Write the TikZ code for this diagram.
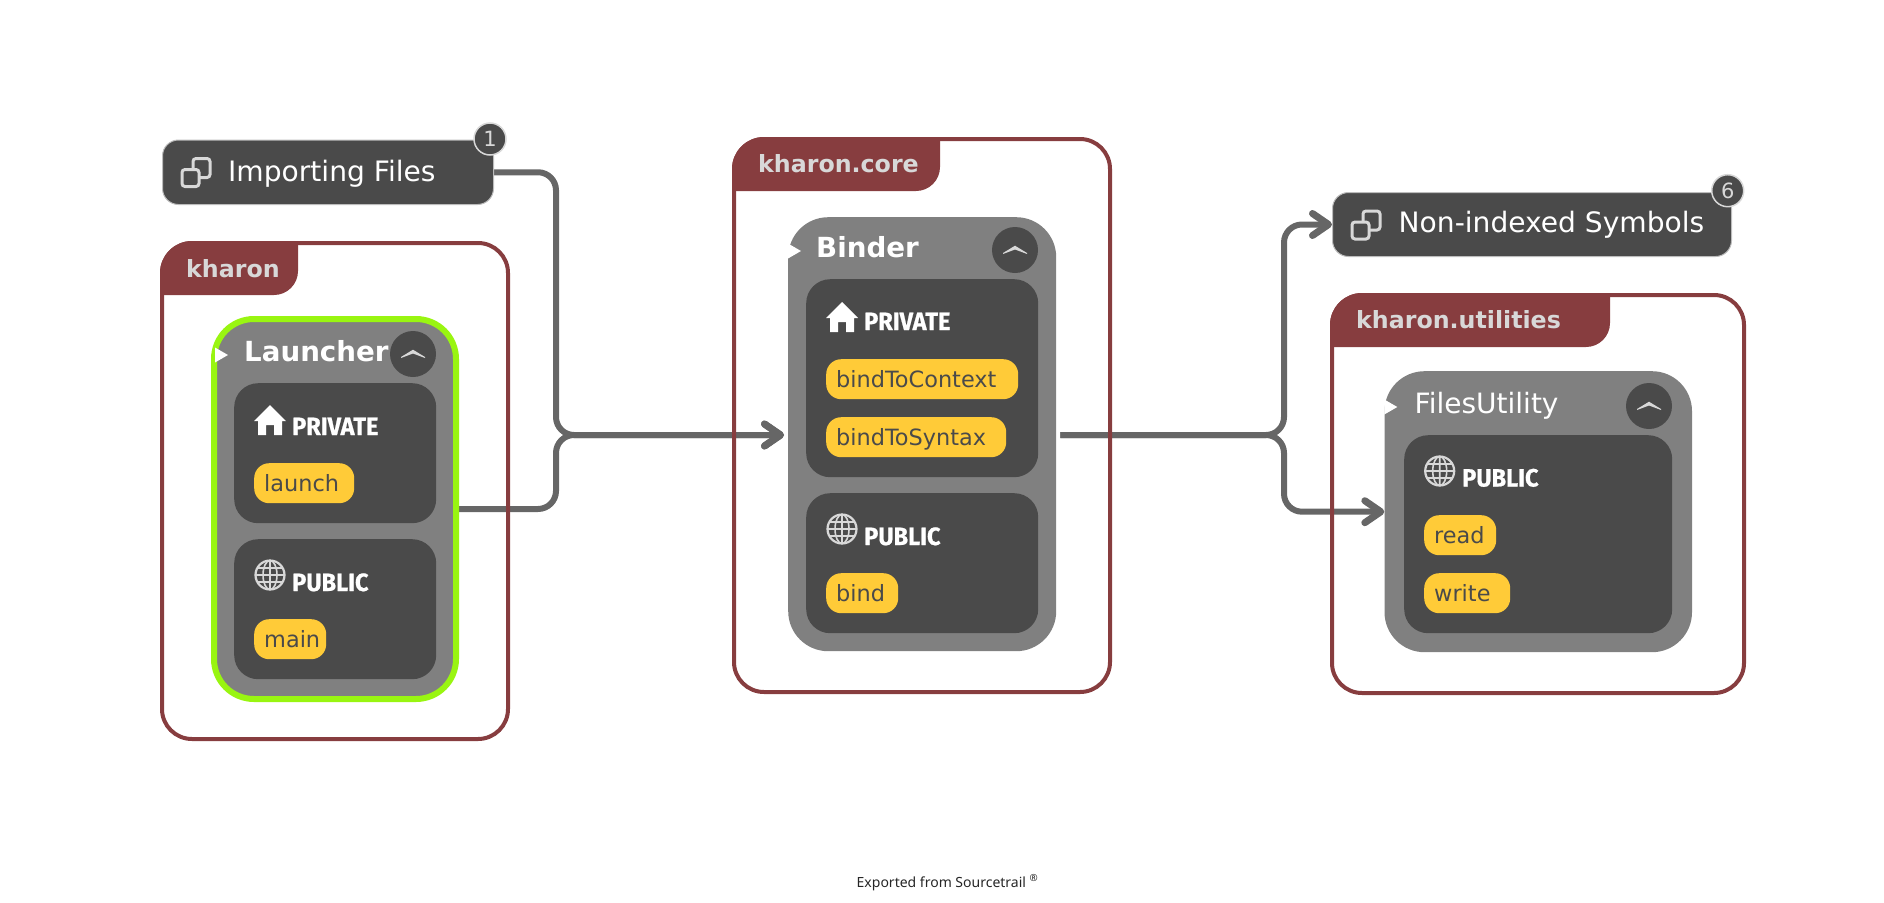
\documentclass[tikz,border=0pt]{standalone}
\usepackage{fontspec}
\usepackage{xcolor}
\usepackage{tikz}
\usetikzlibrary{positioning,arrows.meta,backgrounds}
\setmainfont{DejaVu Sans}
\newfontfamily\headfont[BoldFeatures={FakeBold=0.8,FakeStretch=0.94}]{Fira Sans}
\newfontfamily\footfont{Noto Sans}
\newcommand\pxfont[1]{\fontsize{#1}{#1}\selectfont}
\definecolor{groupred}{HTML}{873D3F}
\definecolor{darkbox}{HTML}{4A4A4A}
\definecolor{classgray}{HTML}{808080}
\definecolor{edgegray}{HTML}{666666}
\definecolor{pillyellow}{HTML}{FFCB38}
\definecolor{focusgreen}{HTML}{99F511}
\definecolor{softwhite}{HTML}{D8D8D8}
\tikzset{
  groupframe/.style={draw=groupred, line width=4pt, rounded corners=30pt, anchor=north west, inner sep=0pt},
  grouplabel/.style={anchor=base west, text=softwhite, font=\pxfont{23.7}\bfseries, inner sep=0pt},
  classbox/.style={fill=classgray, rounded corners=40pt, anchor=north west, inner sep=0pt},
  classname/.style={anchor=base west, text=white, font=\pxfont{28}, inner sep=0pt},
  sectionbox/.style={fill=darkbox, rounded corners=24pt, anchor=north west, inner sep=0pt},
  sectionname/.style={anchor=base west, text=white, font=\headfont\pxfont{25}\bfseries, inner sep=0pt},
  pill/.style={fill=pillyellow, rounded corners=15pt, anchor=north west, text=darkbox, font=\pxfont{22.4},
    inner xsep=10pt, inner ysep=12pt, text height=16pt, text depth=0pt, text width=#1, align=left},
  bundlebox/.style={fill=darkbox, draw=softwhite!80!darkbox, line width=1pt, rounded corners=16pt, anchor=north west, inner sep=0pt},
  bundlename/.style={anchor=base west, text=white, font=\pxfont{28.1}, inner sep=0pt},
  badge/.style={circle, fill=darkbox, draw=softwhite, line width=1.5pt, minimum size=32pt, inner sep=0pt, text=softwhite, font=\pxfont{21}},
  edgeline/.style={draw=edgegray, line width=6pt, rounded corners=18pt, -{Straight Barb[length=16pt,width=22pt,line width=7pt,round]}},
  foldmark/.pic={\fill[white] (0,-7.5) -- (13,0) -- (0,7.5) -- cycle;},
  collapse/.pic={
    \fill[darkbox] (0,0) circle (23);
    \fill[softwhite] (-12,3) -- (0,-4.3) -- (12,3) -- (12,4) -- (0,-0.5) -- (-12,4) -- cycle;
  },
  homeicon/.pic={
    \fill[white] (0,-15) -- (16,1) -- (12,1) -- (12,15) -- (4,15) -- (4,5) -- (-4,5) -- (-4,15) -- (-12,15) -- (-12,1) -- (-16,1) -- cycle;
  },
  globeicon/.pic={
    \draw[softwhite, line width=2.2pt] (0,0) circle (14.5);
    \draw[softwhite, line width=1.6pt] (0,0) ellipse (7 and 14.5) (0,-14.5) -- (0,14.5) (-14.5,0) -- (14.5,0) (-12.5,-7) -- (12.5,-7) (-12.5,7) -- (12.5,7);
  },
  filesicon/.pic={
    \draw[softwhite, line width=3pt, rounded corners=3pt] (-3,-14) rectangle (14,5);
    \draw[softwhite, fill=darkbox, line width=3pt, rounded corners=3pt] (-14,-3) rectangle (3,14);
  },
}
\newcommand\grouptab[2]{%
  \fill[groupred] ([yshift=-54pt]#1.north west) [rounded corners=32pt] -- (#1.north west) [sharp corners]
    -- ([xshift=#2]#1.north west) [rounded corners=24pt] -- ([shift={(#2,54)}]#1.north west) [sharp corners] -- cycle;}

\begin{document}
\begin{tikzpicture}[x=1pt, y=-1pt]
  \useasboundingbox (0,0) rectangle (1884,902);

  % left column
  \node[bundlebox, minimum width=331pt, minimum height=64.5pt] (importing) at (162,139.5) {};
  \pic at (196,172.5) {filesicon};
  \node[bundlename] (importinglabel) at (228,181) {Importing Files};
  \node[badge] (importingcount) at (490,139) {1};

  \node[groupframe, minimum width=346pt, minimum height=496pt] (kharon) at (160,241) {};
  \grouptab{kharon}{138pt}
  \node[grouplabel] (kharonlabel) at (186,277) {kharon};

  \node[classbox, draw=focusgreen, line width=6pt, minimum width=242pt, minimum height=380pt] (launcher) at (211,316) {};
  \pic at (215,355) {foldmark};
  \node[classname, font=\pxfont{27.7}\bfseries] (launcherlabel) at (244,361) {Launcher};
  \pic at (413,354) {collapse};
  \node[sectionbox, minimum width=202pt, minimum height=140pt] (launcherpriv) at (234,383) {};
  \pic at (270,420) {homeicon};
  \node[sectionname] (launcherprivlabel) at (292,435) {PRIVATE};
  \node[pill=80pt] (launch) at (254,463) {launch};
  \node[sectionbox, minimum width=202pt, minimum height=140pt] (launcherpub) at (234,539) {};
  \pic at (270,575) {globeicon};
  \node[sectionname] (launcherpublabel) at (292,591) {PUBLIC};
  \node[pill=52pt] (main) at (254,619) {main};

  % middle column
  \node[groupframe, minimum width=376pt, minimum height=553pt] (core) at (732,137) {};
  \grouptab{core}{208pt}
  \node[grouplabel] (corelabel) at (758,172) {kharon.core};

  \node[classbox, minimum width=268pt, minimum height=434pt] (binder) at (788,217) {};
  \pic at (788,251) {foldmark};
  \node[classname, font=\pxfont{27.7}\bfseries] (binderlabel) at (816,257) {Binder};
  \pic at (1015,250) {collapse};
  \node[sectionbox, minimum width=232pt, minimum height=198pt] (binderpriv) at (806,279) {};
  \pic at (842,317) {homeicon};
  \node[sectionname] (binderprivlabel) at (864,330) {PRIVATE};
  \node[pill=172pt] (bindctx) at (826,359) {bindToContext};
  \node[pill=160pt] (bindsyn) at (826,417) {bindToSyntax};
  \node[sectionbox, minimum width=232pt, minimum height=140pt] (binderpub) at (806,493) {};
  \pic at (842,529) {globeicon};
  \node[sectionname] (binderpublabel) at (864,545) {PUBLIC};
  \node[pill=52pt] (bind) at (826,573) {bind};

  % right column
  \node[bundlebox, minimum width=399pt, minimum height=64pt] (nonindexed) at (1332,192) {};
  \pic at (1366,225) {filesicon};
  \node[bundlename] (nonindexedlabel) at (1398.5,232.5) {Non-indexed Symbols};
  \node[badge] (nonindexedcount) at (1727.7,190.7) {6};

  \node[groupframe, minimum width=412pt, minimum height=398pt] (utilities) at (1330,293) {};
  \grouptab{utilities}{280pt}
  \node[grouplabel] (utilitieslabel) at (1356,328) {kharon.utilities};

  \node[classbox, minimum width=307.5pt, minimum height=281pt] (files) at (1384.3,371) {};
  \pic at (1384.3,407) {foldmark};
  \node[classname] (fileslabel) at (1414.5,413) {FilesUtility};
  \pic at (1649,406) {collapse};
  \node[sectionbox, minimum width=268pt, minimum height=198pt] (filespub) at (1404,435) {};
  \pic at (1439.7,471) {globeicon};
  \node[sectionname] (filespublabel) at (1462,486.5) {PUBLIC};
  \node[pill=52pt] (read) at (1424,515) {read};
  \node[pill=66pt] (write) at (1424,573) {write};

  \node[anchor=base, font=\footfont\pxfont{14}, text=black!85, inner sep=0pt] (export) at (947.5,887) {Exported from Sourcetrail \textsuperscript{®}};

  % connectors go under the frames
  \coordinate (hubin) at (556,435);
  \coordinate (hubout) at (1284,435);
  \begin{scope}[on background layer]
    \draw[edgeline, shorten >=4pt] (importing.east) -| (hubin) -- (hubin -| binder.west);
    \draw[edgeline, shorten >=4pt] (launcher.east) -| (hubin) -- (hubin -| binder.west);
    \draw[edgeline, shorten <=4pt] (hubout -| binder.east) -- (hubout) |- (nonindexed.west);
    \draw[edgeline, shorten <=4pt] (hubout -| binder.east) -- (hubout) |- (files.west);
  \end{scope}
\end{tikzpicture}
\end{document}
